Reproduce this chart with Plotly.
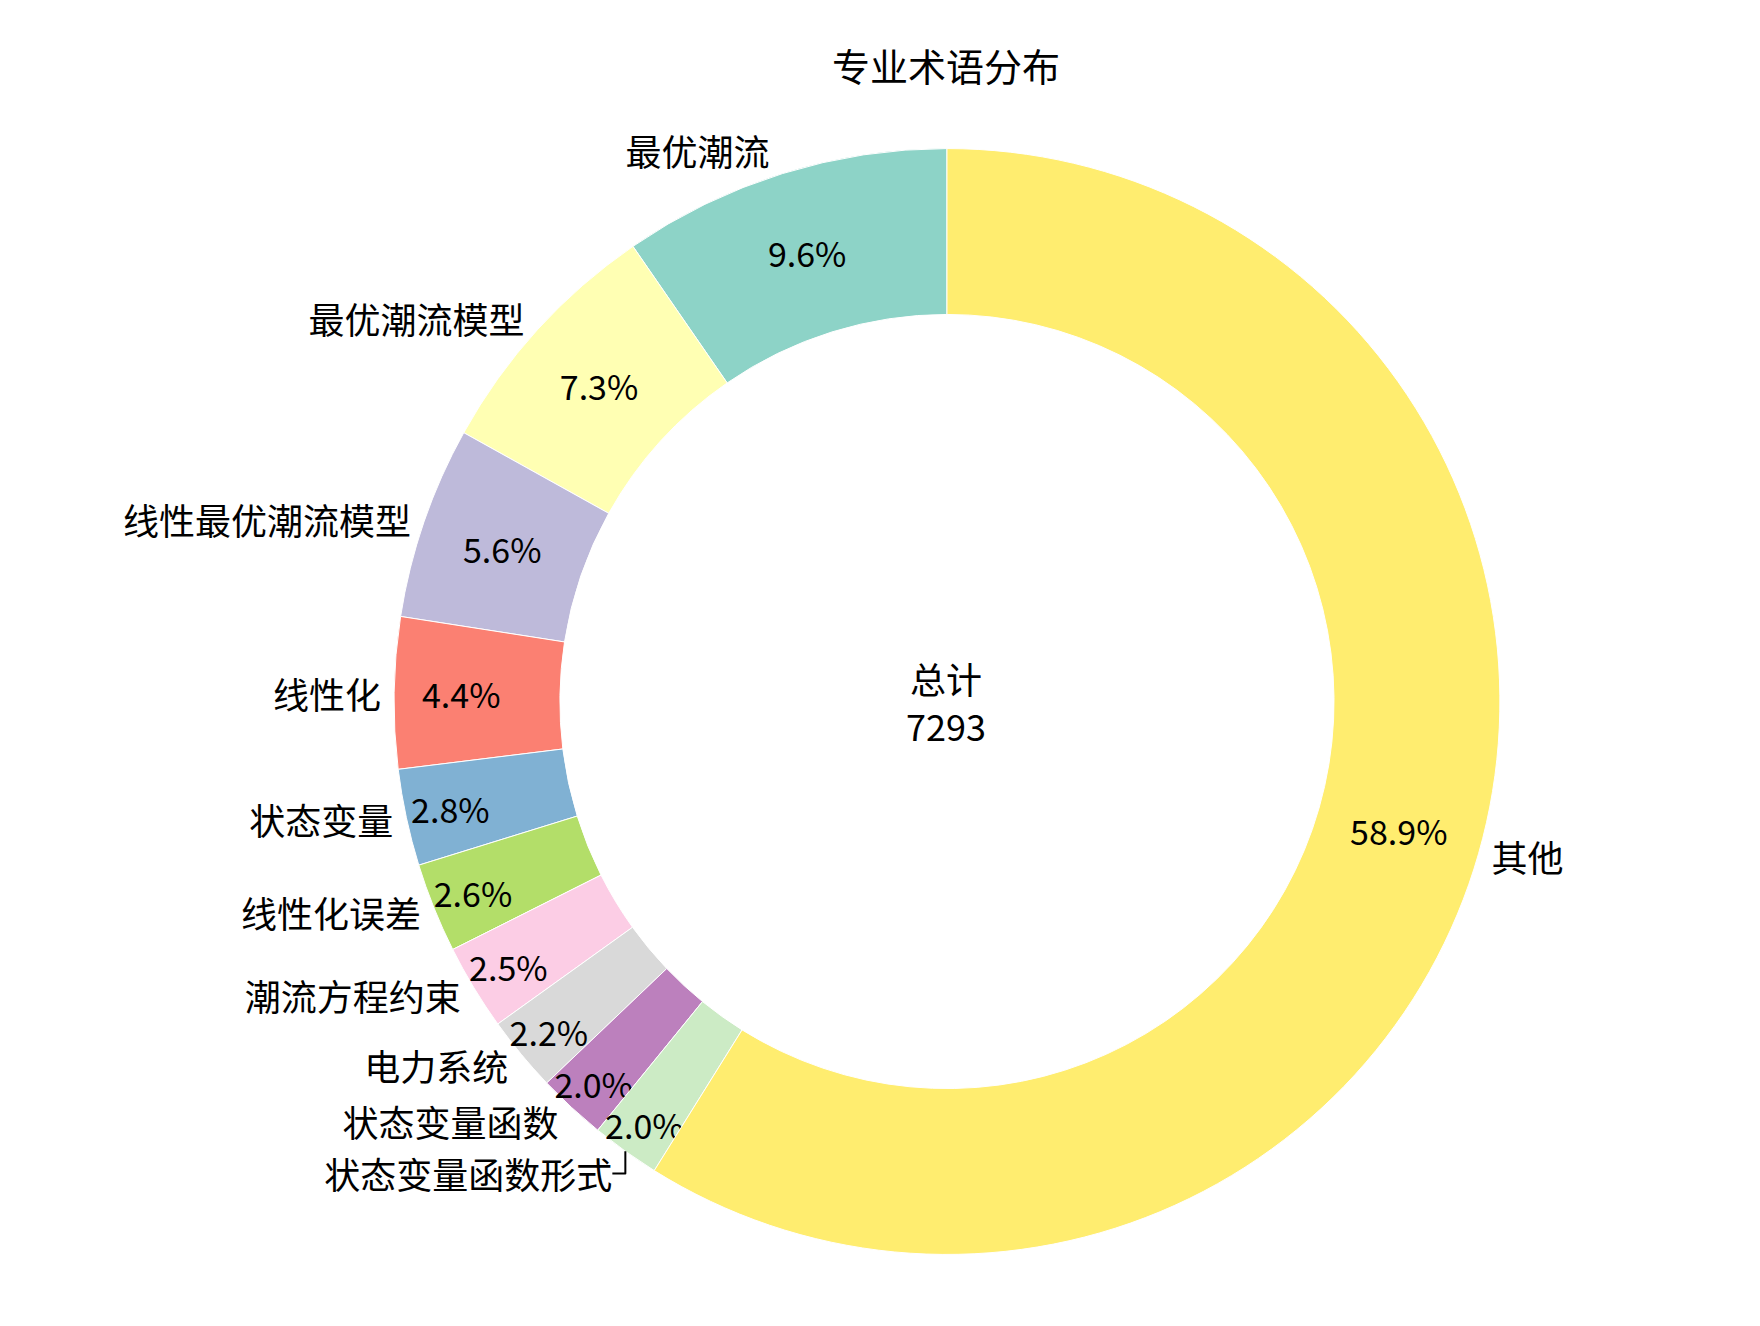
import plotly.graph_objects as go

labels = ["最优潮流", "最优潮流模型", "线性最优潮流模型", "线性化", "状态变量",
          "线性化误差", "潮流方程约束", "电力系统", "状态变量函数", "状态变量函数形式", "其他"]
counts = [701, 533, 410, 322, 206, 191, 183, 161, 146, 146, 4294]
colors = ["#8dd3c7", "#ffffb3", "#bebada", "#fb8072", "#80b1d3", "#b3de69",
          "#fccde5", "#d9d9d9", "#bc80bd", "#ccebc5", "#ffed6f"]
total = sum(counts)

font = "Noto Sans CJK SC"
dom = dict(x=[0.219, 0.848], y=[0.06, 0.894])
# first wedge should start at 12 o'clock and run counterclockwise
rot = -360 * counts[0] / total

fig = go.Figure()
# ring with percentages inside
fig.add_trace(go.Pie(
    labels=labels, values=counts, sort=False, direction="counterclockwise",
    rotation=rot, hole=0.7, domain=dom,
    marker=dict(colors=colors, line=dict(color="white", width=1)),
    texttemplate="%{percent:.1%}", textposition="inside",
    insidetextorientation="horizontal",
    textfont=dict(size=34, color="black", family=font),
    showlegend=False, hoverinfo="label+value+percent",
))
# transparent copy carrying the outside labels
fig.add_trace(go.Pie(
    labels=labels, values=counts, sort=False, direction="counterclockwise",
    rotation=rot, hole=0.7, domain=dom,
    marker=dict(colors=["rgba(0,0,0,0)"] * len(labels)),
    texttemplate="%{label}", textposition="outside",
    textfont=dict(size=36, color="black", family=font),
    showlegend=False, hoverinfo="skip",
))

fig.update_layout(
    width=1760, height=1326,
    margin=dict(l=0, r=0, t=0, b=0),
    paper_bgcolor="white",
    font=dict(family=font),
    uniformtext=dict(minsize=34, mode="show"),
    title=dict(text="专业术语分布", x=0.533, y=0.965, xanchor="center",
               font=dict(size=38, color="black", family=font)),
    annotations=[dict(text=f"总计<br>{total}", x=0.533, y=0.477, xref="paper", yref="paper",
                      showarrow=False, font=dict(size=36, color="black", family=font))],
)

fig.write_html("out.html")
